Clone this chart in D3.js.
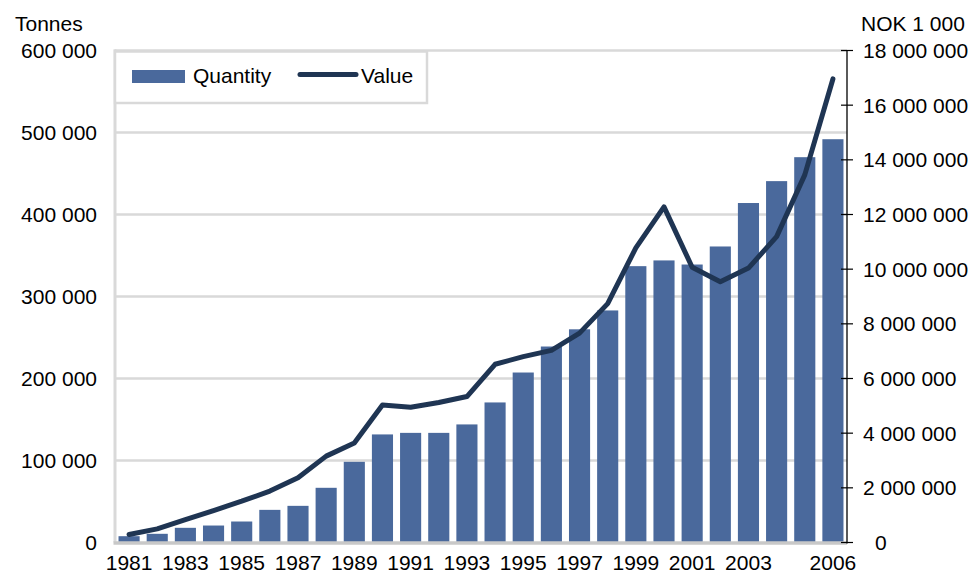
<!DOCTYPE html>
<html>
<head>
<meta charset="utf-8">
<script src="https://cdn.jsdelivr.net/npm/d3@7"></script>
<style>
  html, body { margin: 0; padding: 0; background: #ffffff; }
  svg { display: block; }
  text { font-family: "Liberation Sans", Arial, sans-serif; fill: #000; }
</style>
</head>
<body>
<svg id="chart" width="973" height="575"></svg>
<script>
const years = [1981,1982,1983,1984,1985,1986,1987,1988,1989,1990,1991,1992,1993,1994,1995,1996,1997,1998,1999,2000,2001,2002,2003,2004,2005,2006];
const quantity = [7700,10600,17900,20700,25600,39800,44700,66700,98400,131800,133700,133700,144000,170800,207300,239000,260000,283000,337000,344000,339000,361000,414000,440700,469900,491800];
const value = [290000,500000,840000,1170000,1510000,1880000,2370000,3160000,3640000,5030000,4950000,5120000,5340000,6520000,6800000,7030000,7660000,8740000,10780000,12280000,10070000,9540000,10040000,11190000,13450000,16960000];
const xTickLabels = [1981,1983,1985,1987,1989,1991,1993,1995,1997,1999,2001,2003,2006];
const leftTicks = [0,100000,200000,300000,400000,500000,600000];
const rightTicks = [0,2000000,4000000,6000000,8000000,10000000,12000000,14000000,16000000,18000000];
const leftTitle = "Tonnes";
const rightTitle = "NOK 1 000";
const seriesNames = ["Quantity", "Value"];

(function () {
const barColor = "#4a699c";
const lineColor = "#1f3553";
const gridColor = "#d9d9d9";
const fs = 21;

const svg = d3.select("#chart");
const pLeft = 115, pRight = 847, pTop = 50.5, pBottom = 542.5;

const x = d3.scaleBand().domain(years).range([pLeft, pRight]).paddingInner(0.25).paddingOuter(0.125);
const yL = d3.scaleLinear().domain([0, 600000]).range([pBottom, pTop]);
const yR = d3.scaleLinear().domain([0, 18000000]).range([pBottom, pTop]);

const spaced = d => d3.format(",")(d).replace(/,/g, " ");

// gridlines
svg.append("g").selectAll("line").data(leftTicks.filter(d => d > 0)).join("line")
  .attr("x1", pLeft).attr("x2", pRight)
  .attr("y1", d => yL(d)).attr("y2", d => yL(d))
  .attr("stroke", gridColor).attr("stroke-width", 2.7);

// left border
svg.append("line").attr("x1", pLeft).attr("x2", pLeft).attr("y1", pTop - 1.3).attr("y2", pBottom)
  .attr("stroke", gridColor).attr("stroke-width", 3);

// bars
svg.append("g").selectAll("rect").data(years).join("rect")
  .attr("x", d => x(d)).attr("width", x.bandwidth())
  .attr("y", (d, i) => yL(quantity[i]))
  .attr("height", (d, i) => pBottom - yL(quantity[i]))
  .attr("fill", barColor);

// bottom axis line
svg.append("line").attr("x1", pLeft - 1.5).attr("x2", pRight).attr("y1", pBottom + 0.5).attr("y2", pBottom + 0.5)
  .attr("stroke", "#c8c8c8").attr("stroke-width", 3.5);

// value line
const line = d3.line().x((d, i) => x(years[i]) + x.bandwidth() / 2).y(d => yR(d));
svg.append("path").datum(value).attr("d", line)
  .attr("fill", "none").attr("stroke", lineColor).attr("stroke-width", 5)
  .attr("stroke-linejoin", "round").attr("stroke-linecap", "round");

// left axis labels
svg.append("g").selectAll("text").data(leftTicks).join("text")
  .attr("x", 97).attr("y", d => yL(d)).attr("dy", "0.36em")
  .attr("text-anchor", "end").attr("font-size", fs)
  .text(d => spaced(d));

// right axis
const rAxis = svg.append("g").attr("transform", `translate(${pRight},0)`);
rAxis.append("line").attr("x1", 0).attr("x2", 0).attr("y1", pTop).attr("y2", pBottom + 1)
  .attr("stroke", "#000").attr("stroke-width", 1.3);
rAxis.selectAll("line.tick").data(rightTicks).join("line").attr("class", "tick")
  .attr("x1", -6).attr("x2", 6).attr("y1", d => yR(d)).attr("y2", d => yR(d))
  .attr("stroke", "#000").attr("stroke-width", 1.2);
rAxis.selectAll("text").data(rightTicks).join("text")
  .attr("x", d => d === 0 ? 28 : 16).attr("y", d => yR(d)).attr("dy", "0.36em")
  .attr("text-anchor", "start").attr("font-size", fs)
  .text(d => spaced(d));

// x labels
svg.append("g").selectAll("text").data(xTickLabels).join("text")
  .attr("x", d => x(d) + x.bandwidth() / 2).attr("y", 570)
  .attr("text-anchor", "middle").attr("font-size", fs)
  .text(d => d);

// axis titles
svg.append("text").attr("x", 15).attr("y", 31).attr("font-size", fs).text(leftTitle);
svg.append("text").attr("x", 861).attr("y", 31).attr("font-size", fs).text(rightTitle);

// legend
const lg = svg.append("g");
lg.append("rect").attr("x", pLeft).attr("y", 51.5).attr("width", 312).attr("height", 51.5)
  .attr("fill", "#fff").attr("stroke", gridColor).attr("stroke-width", 2.5);
lg.append("rect").attr("x", 132).attr("y", 70).attr("width", 53).attr("height", 13).attr("fill", barColor);
lg.append("text").attr("x", 193).attr("y", 82.5).attr("font-size", fs).text(seriesNames[0]);
lg.append("line").attr("x1", 300).attr("x2", 356).attr("y1", 74.5).attr("y2", 74.5)
  .attr("stroke", lineColor).attr("stroke-width", 5).attr("stroke-linecap", "round");
lg.append("text").attr("x", 361).attr("y", 82.5).attr("font-size", fs).text(seriesNames[1]);
})();
</script>
</body>
</html>
